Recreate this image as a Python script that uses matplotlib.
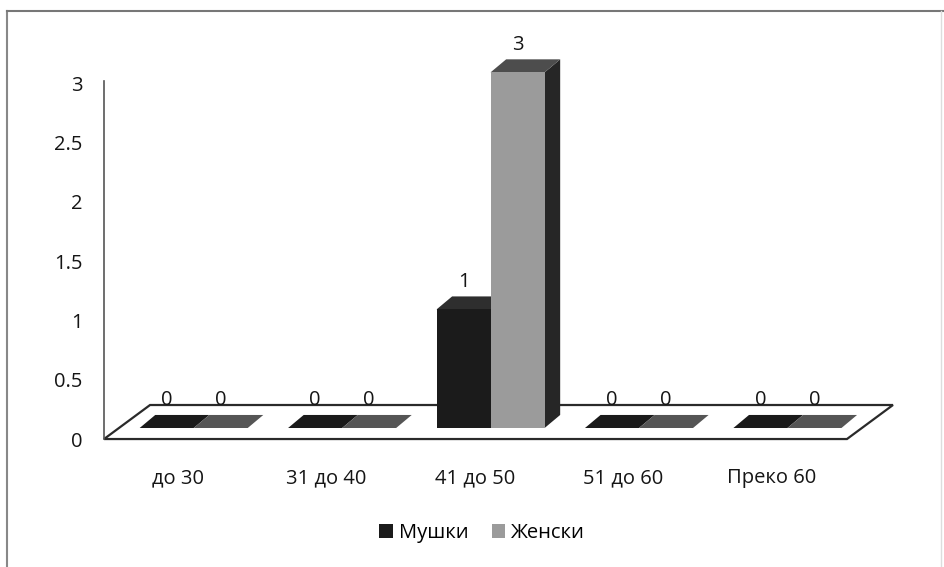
import matplotlib
matplotlib.use("Agg")
import matplotlib.pyplot as plt
from matplotlib.patches import Polygon, Patch
from matplotlib.lines import Line2D

plt.rcParams["font.family"] = ["Open Sans", "DejaVu Sans"]

# --- data ---
categories = ["до 30", "31 до 40", "41 до 50", "51 до 60", "Преко 60"]
series_names = ["Мушки", "Женски"]
men = [0, 0, 1, 0, 0]
women = [0, 0, 3, 0, 0]
y_ticks = [0, 0.5, 1, 1.5, 2, 2.5, 3]
y_tick_labels = ["0", "0.5", "1", "1.5", "2", "2.5", "3"]

# --- styling for the pseudo-3D look ---
front_cols = ["#1b1b1b", "#9b9b9b"]
top_cols = ["#2e2e2e", "#4d4d4d"]
side_cols = ["#141414", "#262626"]
flat_cols = ["#1a1a1a", "#555555"]
bar_w = 0.364
bar_x0 = -0.26          # left edge of the first bar relative to the category
base = 0.093            # bars stand a little back on the floor
bdx, bdy = 0.105, 0.11  # bar depth offset
fdx, fdy = 0.31, 0.287  # floor depth offset
fs = 14.5
txt_col = "#151515"

fig = plt.figure(figsize=(9.44, 5.67), dpi=100)
ax = fig.add_axes([0.1102, 0.2257, 0.787, 0.6314])
ax.set_xlim(-0.5, 4.505)
ax.set_ylim(0, 3.02)

for s in ["top", "right", "bottom"]:
    ax.spines[s].set_visible(False)
ax.spines["left"].set_color("#555555")
ax.spines["left"].set_linewidth(1.2)

ax.set_yticks(y_ticks)
ax.set_yticklabels(y_tick_labels)
ax.set_xticks(range(len(categories)))
ax.set_xticklabels(categories)
ax.tick_params(axis="y", length=0, pad=15.5, labelsize=fs, labelcolor=txt_col)
ax.tick_params(axis="x", length=0, pad=21, labelsize=fs, labelcolor=txt_col)

# floor
x0, x1 = ax.get_xlim()
floor = Polygon([(x0, 0), (x1, 0), (x1 + fdx, fdy), (x0 + fdx, fdy)],
                closed=True, facecolor="white", edgecolor="#2a2a2a",
                linewidth=1.6, clip_on=False, zorder=1)
ax.add_patch(floor)


def draw_bar(xl, val, k):
    xr = xl + bar_w
    b = base
    t = base + val
    if val == 0:
        ax.add_patch(Polygon([(xl, b), (xr, b), (xr + bdx, b + bdy), (xl + bdx, b + bdy)],
                             closed=True, facecolor=flat_cols[k], edgecolor="none",
                             clip_on=False, zorder=2))
        return
    # side face
    ax.add_patch(Polygon([(xr, b), (xr + bdx, b + bdy), (xr + bdx, t + bdy), (xr, t)],
                         closed=True, facecolor=side_cols[k], edgecolor="none",
                         clip_on=False, zorder=3 + k))
    # top face
    ax.add_patch(Polygon([(xl, t), (xr, t), (xr + bdx, t + bdy), (xl + bdx, t + bdy)],
                         closed=True, facecolor=top_cols[k], edgecolor="none",
                         clip_on=False, zorder=3 + k))
    # front face
    ax.bar(xl, val, width=bar_w, bottom=b, align="edge", color=front_cols[k],
           edgecolor="none", clip_on=False, zorder=3 + k)


for i in range(len(categories)):
    for k, vals in enumerate([men, women]):
        xl = i + bar_x0 + k * bar_w
        v = vals[i]
        draw_bar(xl, v, k)
        ax.text(xl + bar_w / 2, base + v + bdy + 0.125, f"{v:g}",
                ha="center", va="center", fontsize=fs, color=txt_col,
                zorder=6, clip_on=False)

# legend
handles = [Patch(facecolor=front_cols[0], edgecolor="none"),
           Patch(facecolor=front_cols[1], edgecolor="none")]
fig.legend(handles, series_names, loc="center", bbox_to_anchor=(0.511, 0.06),
           ncol=2, frameon=False, fontsize=fs, handlelength=0.65,
           handleheight=0.65, handletextpad=0.3, columnspacing=1.2)

# outer frame
fig.add_artist(Line2D([0.0074, 0.0074], [0.0, 0.9806], transform=fig.transFigure,
                      color="#888888", linewidth=1.5))
fig.add_artist(Line2D([0.0074, 1.0], [0.9806, 0.9806], transform=fig.transFigure,
                      color="#777777", linewidth=1.5))
fig.add_artist(Line2D([0.9968, 0.9968], [0.0, 0.9806], transform=fig.transFigure,
                      color="#dddddd", linewidth=1.0))

fig.savefig("out.png", dpi=100)
